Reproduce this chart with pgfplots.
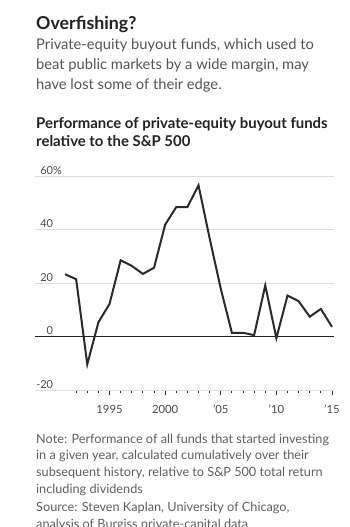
\documentclass[border=0pt]{standalone}
\usepackage{fontspec}
\setmainfont{Lato}
\usepackage{pgfplots}
\pgfplotsset{compat=1.18}
\definecolor{titlec}{HTML}{222222}
\definecolor{subc}{HTML}{555555}
\definecolor{notec}{HTML}{5F5F5F}
\definecolor{gridc}{HTML}{DDDDDD}
\definecolor{linec}{HTML}{2A2A2A}
\definecolor{tickc}{HTML}{4A4A4A}
\newcommand{\tl}[4]{\node[anchor=base west,inner sep=0pt,text=#1,font=#2] at (36pt,{527pt-#3pt}) {#4};}
\begin{document}
\begin{tikzpicture}
\useasboundingbox (0pt,0pt) rectangle (350pt,527pt);
\tl{titlec}{\fontsize{17.8}{20}\selectfont\bfseries}{29.3}{Overfishing?}
\tl{subc}{\fontsize{14.7}{20}\selectfont}{50}{Private-equity buyout funds, which used to}
\tl{subc}{\fontsize{14.7}{20}\selectfont}{70}{beat public markets by a wide margin, may}
\tl{subc}{\fontsize{14.7}{20}\selectfont}{89.5}{have lost some of their edge.}
\tl{titlec}{\fontsize{14.9}{18}\selectfont\bfseries}{128.3}{Performance of private-equity buyout funds}
\tl{titlec}{\fontsize{14.9}{18}\selectfont\bfseries}{146.7}{relative to the S\&P 500}
\tl{notec}{\fontsize{12.7}{16}\selectfont}{443.3}{Note: Performance of all funds that started investing}
\tl{notec}{\fontsize{12.7}{16}\selectfont}{460}{in a given year, calculated cumulatively over their}
\tl{notec}{\fontsize{12.7}{16}\selectfont}{476.7}{subsequent history, relative to S\&P 500 total return}
\tl{notec}{\fontsize{12.7}{16}\selectfont}{493.3}{including dividends}
\tl{notec}{\fontsize{12.7}{16}\selectfont}{511.7}{Source: Steven Kaplan, University of Chicago,}
\tl{notec}{\fontsize{12.7}{16}\selectfont}{528.4}{analysis of Burgiss private-capital data}
\begin{axis}[
  at={(35pt,137pt)}, anchor=south west,
  scale only axis, width=299pt, height=214pt,
  xmin=1988.3, xmax=2015.18, ymin=-20, ymax=60,
  axis line style={draw=none},
  /pgf/number format/assume math mode=true,
  ytick={-20,0,20,40,60},
  yticklabels={-20,0,20,40,60\rlap{\%}},
  ymajorgrids, grid style={gridc,line width=0.8pt},
  ytick style={draw=none},
  yticklabel style={anchor=south east,inner sep=0pt,xshift=23pt,yshift=1.5pt,text=tickc,font=\fontsize{11}{12}\selectfont},
  xtick={1995,2000,2005,2010,2015},
  xticklabels={1995,2000,'05,'10,'15},
  minor xtick={1992,...,2015},
  xtick pos=bottom, tick align=outside,
  major tick length=4.7pt, minor tick length=2.8pt,
  xtick style={draw=linec,line width=0.8pt},
  minor tick style={draw=linec,line width=0.8pt},
  xticklabel style={anchor=base,inner sep=0pt,yshift=-19.3pt,text=tickc,font=\fontsize{11.3}{12}\selectfont},
  clip=false,
]
\draw[gridc,line width=0.8pt] (axis cs:1988.3,-20) -- (axis cs:2015.18,-20);
\draw[titlec,line width=0.9pt] (axis cs:1988.3,0) -- (axis cs:2015.18,0);
\addplot[linec,line width=2pt,line join=miter,no marks] coordinates {
(1991,23.3) (1992,21.4) (1993,-10.4) (1994,5.3) (1995,12.2) (1996,28.5)
(1997,26.4) (1998,23.4) (1999,25.7) (2000,41.8) (2001,48.4) (2002,48.4)
(2003,56.5) (2004,36.7) (2005,17.9) (2006,1.4) (2007,1.4) (2008,0.5)
(2009,19.1) (2010,-0.6) (2011,15.3) (2012,13.2) (2013,7.4) (2014,10.3)
(2015,3.6)};
\end{axis}
\end{tikzpicture}
\end{document}
